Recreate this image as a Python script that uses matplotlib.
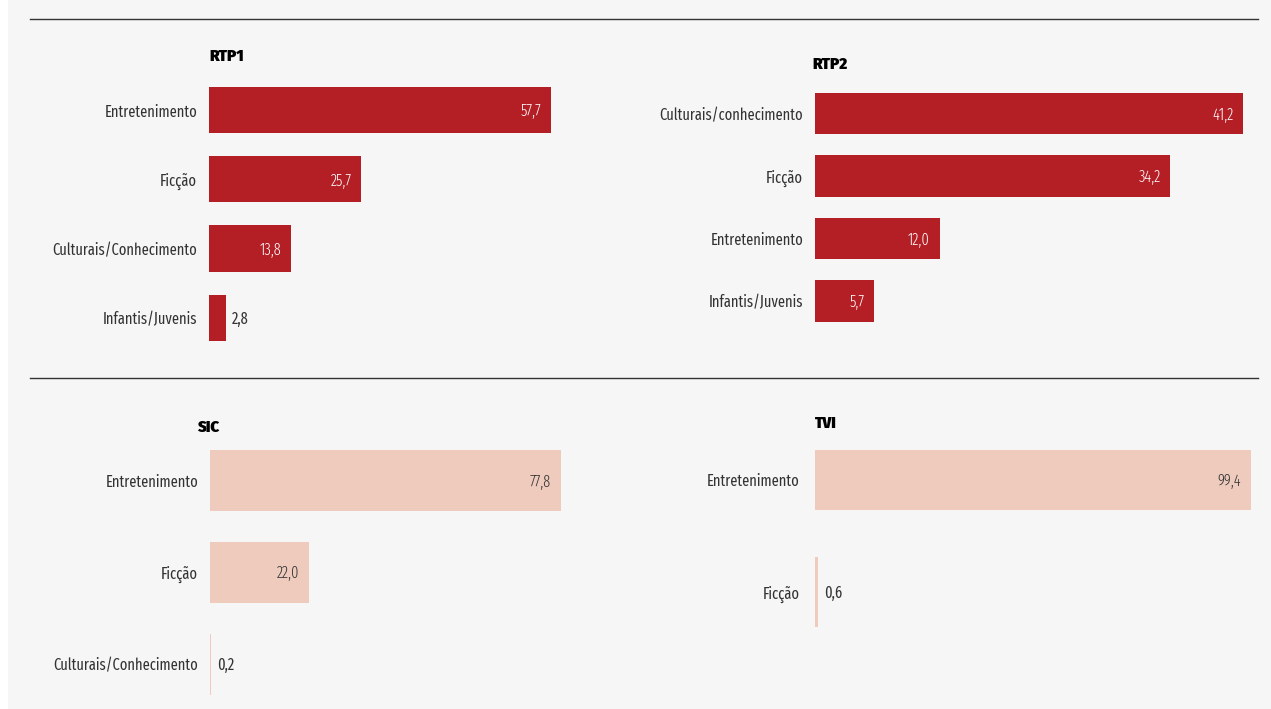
import matplotlib.pyplot as plt
from matplotlib.lines import Line2D
from matplotlib.patches import Rectangle

# ===== DATA =====
rtp1_categories = ['Entretenimento', 'Ficção', 'Culturais/Conhecimento', 'Infantis/Juvenis']
rtp1_values = [57.7, 25.7, 13.8, 2.8]

rtp2_categories = ['Culturais/conhecimento', 'Ficção', 'Entretenimento', 'Infantis/Juvenis']
rtp2_values = [41.2, 34.2, 12.0, 5.7]

sic_categories = ['Entretenimento', 'Ficção', 'Culturais/Conhecimento']
sic_values = [77.8, 22.0, 0.2]

tvi_categories = ['Entretenimento', 'Ficção']
tvi_values = [99.4, 0.6]

# ===== STYLE =====
LABEL_FONTS = ['Fira Sans Extra Condensed', 'Fira Sans Condensed', 'Roboto Condensed', 'DejaVu Sans']
TITLE_FONTS = ['Fira Sans Condensed', 'Fira Sans Extra Condensed', 'Roboto Condensed', 'DejaVu Sans']
plt.rcParams['font.family'] = LABEL_FONTS
RED = '#b41f26'
PINK = '#eecbbd'
BG = '#f6f6f6'
TEXT = '#333333'

W, H = 1271, 709
fig = plt.figure(figsize=(W / 100, H / 100), dpi=100)
fig.patch.set_facecolor('white')
fig.add_artist(Rectangle((8 / W, 0), 1 - 8 / W, 1, transform=fig.transFigure,
                         facecolor=BG, edgecolor='none', zorder=-10))


def px_axes(left, top, width, height):
    return fig.add_axes([left / W, 1 - (top + height) / H, width / W, height / H])


def panel(ax, cats, vals, color, text_in, heights, xmax, title, title_xy, pad=8.5):
    n = len(cats)
    ax.set_facecolor('none')
    ax.barh(range(n), vals, height=heights, color=color, edgecolor='none')
    ax.set_xlim(0, xmax)
    ax.set_ylim(n - 0.5, -0.5)
    ax.set_yticks(range(n), cats)
    ax.tick_params(axis='y', length=0, pad=pad, labelsize=11.3, labelcolor=TEXT)
    ax.set_xticks([])
    for s in ax.spines.values():
        s.set_visible(False)
    px_per_unit = ax.get_position().width * W / xmax
    for i, v in enumerate(vals):
        lbl = f'{v:.1f}'.replace('.', ',')
        if v * px_per_unit > 45:
            ax.annotate(lbl, (v, i), xytext=(-7, -1), textcoords='offset points',
                        ha='right', va='center', fontsize=11.3, fontweight=300, color=text_in)
        else:
            ax.annotate(lbl, (v, i), xytext=(4.5, -1), textcoords='offset points',
                        ha='left', va='center', fontsize=11.3, color=TEXT)
    fig.text(title_xy[0] / W, 1 - title_xy[1] / H, title, fontsize=12,
             family=TITLE_FONTS, fontweight=900, color='black', ha='left', va='center')


# RTP1
ax1 = px_axes(209, 75.75, 60 * 5.93, 4 * 69.1)
panel(ax1, rtp1_categories, rtp1_values, RED, 'white', 0.666, 60, 'RTP1', (209, 56))

# RTP2
ax2 = px_axes(815, 82.25, 42 * 10.39, 4 * 62.5)
panel(ax2, rtp2_categories, rtp2_values, RED, 'white', 0.664, 42, 'RTP2', (812, 64))

# SIC
ax3 = px_axes(210, 434.8, 80 * 4.512, 3 * 91.7)
panel(ax3, sic_categories, sic_values, PINK, TEXT, 0.665, 80, 'SIC', (197, 427))

# TVI
ax4 = px_axes(815, 424, 100 * 4.386, 2 * 112)
panel(ax4, tvi_categories, tvi_values, PINK, TEXT, [0.536, 0.625], 100, 'TVI', (815, 423), pad=11)

# ===== SEPARATOR LINES =====
for y in (19, 378):
    fig.add_artist(Line2D([30 / W, 1258 / W], [1 - y / H, 1 - y / H],
                          transform=fig.transFigure, color='#333333', linewidth=1))

fig.savefig('out.png', dpi=100, facecolor=fig.get_facecolor())
